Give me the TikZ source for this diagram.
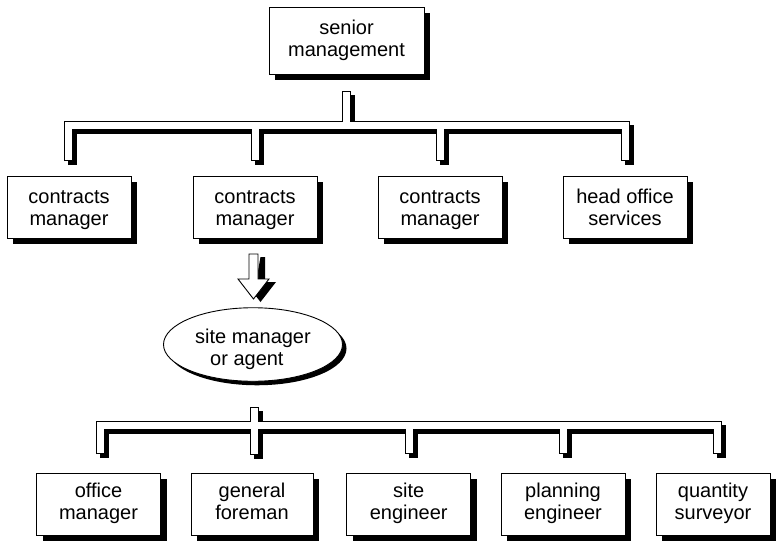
\documentclass[tikz,border=0pt]{standalone}
\usepackage{fontspec}
\setmainfont{Liberation Sans}
\usetikzlibrary{shapes.geometric,shadows}
% two centred lines with fixed first-line height (#3) and last-line depth (#4)
\newcommand\twolines[4]{\rule{0pt}{#3}#1\\#2\rule[-#4]{0pt}{#4}}
\tikzset{
  lbl/.style={font=\fontsize{20}{22}\selectfont, align=center, inner sep=0pt},
  boxnode/.style={lbl, draw=black, line width=0.9pt, fill=white,
     minimum width=124pt, minimum height=62pt,
     drop shadow={shadow xshift=6pt, shadow yshift=-6pt, fill=black, opacity=1}},
  ovalnode/.style={lbl, ellipse, draw=black, line width=0.9pt, fill=white,
     minimum width=179pt, minimum height=67pt, align=left,
     drop shadow={shadow xshift=4pt, shadow yshift=-4pt, fill=black, opacity=1}},
  pipeshadow/.style={line width=9pt, black, transform canvas={xshift=4pt, yshift=-4pt}},
  pipeline/.style={line width=9pt, black},
  pipefill/.style={line width=7pt, white},
}
\newcommand\toppipes[2]{%
  \draw[#1, shorten <=#2] (t0) -- (tj);
  \draw[#1, shorten <=#2, shorten >=#2] (e1) -- (d1) -- (d4) -- (e4);
  \draw[#1, shorten >=#2] (d2) -- (e2);
  \draw[#1, shorten >=#2] (d3) -- (e3);
}
\newcommand\botpipes[2]{%
  \draw[#1, shorten <=#2, shorten >=#2] (s0) -- (f2);
  \draw[#1, shorten <=#2, shorten >=#2] (f1) -- (g1) -- (g5) -- (f5);
  \draw[#1, shorten >=#2] (g3) -- (f3);
  \draw[#1, shorten >=#2] (g4) -- (f4);
}
\begin{document}
\begin{tikzpicture}[x=1pt,y=-1pt]
\fill[white] (0,0) rectangle (780,541);
\useasboundingbox (0,0) rectangle (780,541);

% nodes
\node[boxnode, minimum width=155pt, minimum height=67pt] (sm) at (346.5,40.5) {\twolines{senior}{management}{15pt}{6pt}};
\node[boxnode] (cm1) at (69,207) {\twolines{contracts}{manager}{19pt}{5pt}};
\node[boxnode] (cm2) at (255,207) {\twolines{contracts}{manager}{19pt}{5pt}};
\node[boxnode] (cm3) at (440,207) {\twolines{contracts}{manager}{19pt}{5pt}};
\node[boxnode] (hos) at (625,207) {\twolines{head office}{services}{19pt}{5pt}};
\node[ovalnode] (site) at (253,344.5) {\rule{0pt}{25pt}site manager\\\hspace*{15pt}or agent\rule[-5pt]{0pt}{5pt}};
\node[boxnode] (om) at (98.5,504) {\twolines{office}{manager}{15pt}{6pt}};
\node[boxnode, minimum width=122pt] (gf) at (252,504) {\twolines{general}{foreman}{15pt}{6pt}};
\node[boxnode] (se) at (408.7,504) {\twolines{site}{engineer}{15pt}{6pt}};
\node[boxnode] (pe) at (563,504) {\twolines{planning}{engineer}{15pt}{6pt}};
\node[boxnode, minimum width=114pt] (qs) at (713,504) {\twolines{quantity}{surveyor}{15pt}{6pt}};

% pipe coordinates, top level
\coordinate (t0) at (346,91);
\coordinate (tj) at (346,125.5);
\coordinate (d1) at (68.5,125.5);
\coordinate (e1) at (68.5,161);
\coordinate (d2) at (255,125.5);
\coordinate (e2) at (255,161);
\coordinate (d3) at (440,125.5);
\coordinate (e3) at (440,161);
\coordinate (d4) at (625,125.5);
\coordinate (e4) at (625,161);
% pipe coordinates, bottom level
\coordinate (s0) at (254,407);
\coordinate (f2) at (254,455);
\coordinate (g1) at (100.5,425.5);
\coordinate (f1) at (100.5,454);
\coordinate (g3) at (409,425.5);
\coordinate (f3) at (409,454);
\coordinate (g4) at (563.5,425.5);
\coordinate (f4) at (563.5,454);
\coordinate (g5) at (717.5,425.5);
\coordinate (f5) at (717.5,454);

\toppipes{pipeshadow}{0pt}
\botpipes{pipeshadow}{0pt}
\toppipes{pipeline}{0pt}
\botpipes{pipeline}{0pt}
\toppipes{pipefill}{1pt}
\botpipes{pipefill}{1pt}

% block arrow from contracts manager to site manager
\coordinate (a0) at (253.5,254);
\fill[black] ([shift={(7,3)}]a0) -- ++(4.5,0) -- ++(0,25) -- ++(11,0) -- ++(-15.5,20) -- ++(-15.5,-20) -- ++(11,0) -- cycle;
\draw[black, line width=0.9pt, fill=white, line join=miter] (a0) -- ++(4.5,0) -- ++(0,25) -- ++(11,0) -- ++(-15.5,20) -- ++(-15.5,-20) -- ++(11,0) -- ++(0,-25) -- cycle;
\end{tikzpicture}
\end{document}
